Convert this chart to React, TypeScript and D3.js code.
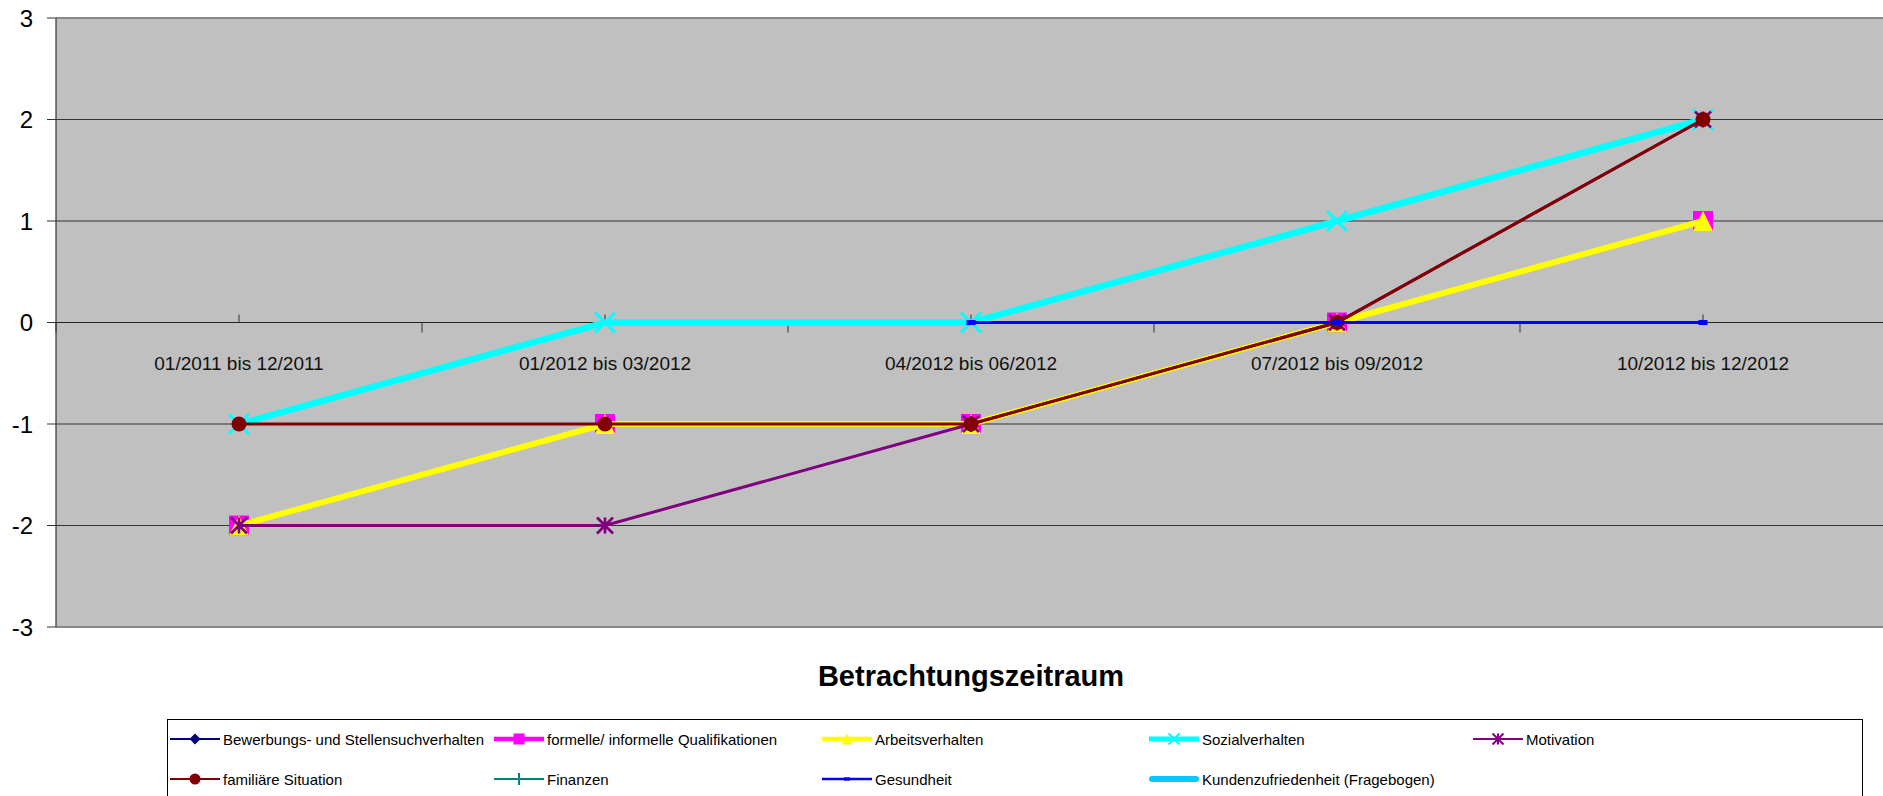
import React from 'react';
import * as d3 from 'd3';

const categories = [
  '01/2011 bis 12/2011',
  '01/2012 bis 03/2012',
  '04/2012 bis 06/2012',
  '07/2012 bis 09/2012',
  '10/2012 bis 12/2012',
];
const bewerbungs: (number | null)[] = [-2, -1, -1, 0, 1];
const qualifikationen: (number | null)[] = [-2, -1, -1, 0, 1];
const arbeitsverhalten: (number | null)[] = [-2, -1, -1, 0, 1];
const sozialverhalten: (number | null)[] = [-1, 0, 0, 1, 2];
const motivation: (number | null)[] = [-2, -2, -1, 0, 2];
const familiaer: (number | null)[] = [-1, -1, -1, 0, 2];
const finanzen: (number | null)[] = [null, null, null, null, null];
const gesundheit: (number | null)[] = [null, null, 0, 0, 0];
const kunden: (number | null)[] = [null, null, null, null, null];
const yTicks = [-3, -2, -1, 0, 1, 2, 3];

const seriesNames = [
  'Bewerbungs- und Stellensuchverhalten',
  'formelle/ informelle Qualifikationen',
  'Arbeitsverhalten',
  'Sozialverhalten',
  'Motivation',
  'familiäre Situation',
  'Finanzen',
  'Gesundheit',
  'Kundenzufriedenheit (Fragebogen)',
];
const seriesValues = [bewerbungs, qualifikationen, arbeitsverhalten, sozialverhalten, motivation, familiaer, finanzen, gesundheit, kunden];
const seriesColors = ['#000080', '#FF00FF', '#FFFF00', '#00FFFF', '#800080', '#800000', '#008080', '#0000FF', '#00CCFF'];
const seriesMarkers = ['diamond', 'square', 'triangle', 'x', 'asterisk', 'circle', 'plus', 'dash', 'none'];
const seriesWidths = [2, 5, 6, 6.5, 3, 3, 2, 3, 6];
const legendWidths = [2, 4.5, 4.5, 5, 2, 2, 2, 2.5, 6];

const W = 1883;
const H = 796;
const plotLeft = 56;
const plotRight = 1886;
const plotTop = 18;
const plotBottom = 627;
const FONT = 'Liberation Sans, Arial, Helvetica, sans-serif';

function Marker({ type, cx, cy, s, color }: { type: string; cx: number; cy: number; s: number; color: string }) {
  const h = s / 2;
  switch (type) {
    case 'diamond':
      return <path d={`M${cx},${cy - h}L${cx + h},${cy}L${cx},${cy + h}L${cx - h},${cy}Z`} fill={color} />;
    case 'square':
      return <rect x={cx - h} y={cy - h} width={s} height={s} fill={color} />;
    case 'triangle':
      return <path d={`M${cx},${cy - h}L${cx + h},${cy + h}L${cx - h},${cy + h}Z`} fill={color} />;
    case 'x':
      return (
        <path d={`M${cx - h},${cy - h}L${cx + h},${cy + h}M${cx - h},${cy + h}L${cx + h},${cy - h}`} stroke={color} strokeWidth={Math.max(2, s / 7)} fill="none" />
      );
    case 'asterisk':
      return (
        <path
          d={`M${cx - h},${cy - h}L${cx + h},${cy + h}M${cx - h},${cy + h}L${cx + h},${cy - h}M${cx},${cy - h}L${cx},${cy + h}`}
          stroke={color}
          strokeWidth={Math.max(2, s / 6)}
          fill="none"
        />
      );
    case 'circle':
      return <circle cx={cx} cy={cy} r={h} fill={color} />;
    case 'plus':
      return <path d={`M${cx - h},${cy}L${cx + h},${cy}M${cx},${cy - h}L${cx},${cy + h}`} stroke={color} strokeWidth={2} fill="none" />;
    case 'dash':
      return <rect x={cx - s / 2} y={cy - s * 0.28} width={s} height={s * 0.56} fill={color} />;
    default:
      return null;
  }
}

const markerSize: Record<string, number> = {
  diamond: 13,
  square: 20,
  triangle: 20,
  x: 20,
  asterisk: 16,
  circle: 15,
  plus: 12,
  dash: 9,
  none: 0,
};
const legendMarkerSize: Record<string, number> = {
  diamond: 11,
  square: 11,
  triangle: 11,
  x: 11,
  asterisk: 11,
  circle: 11,
  plus: 12,
  dash: 6,
  none: 0,
};

export default function App() {
  const x = d3.scaleBand<string>().domain(categories).range([plotLeft, plotRight]).padding(0);
  const bw = x.bandwidth();
  const cx = (c: string) => (x(c) as number) + bw / 2;
  const y = d3.scaleLinear().domain([-3, 3]).range([plotBottom, plotTop]);

  const line = d3
    .line<number | null>()
    .defined((d) => d !== null)
    .x((_, i) => cx(categories[i]))
    .y((d) => y(d as number));

  const legendCols = [223, 547, 875, 1202, 1526];
  const legendRows = [739, 779];

  return (
    <svg width={W} height={H} style={{ position: 'absolute', left: 0, top: 0, background: '#fff' }} fontFamily={FONT}>
      <rect x={0} y={0} width={W} height={H} fill="#fff" />
      {/* plot area */}
      <rect x={plotLeft} y={plotTop} width={plotRight - plotLeft} height={plotBottom - plotTop} fill="#C0C0C0" />
      {/* gridlines */}
      {yTicks
        .filter((t) => t !== 3 && t !== -3)
        .map((t) => (
          <line key={'g' + t} x1={plotLeft} x2={plotRight} y1={y(t)} y2={y(t)} stroke="#333" strokeWidth={1} />
        ))}
      {/* plot border top/bottom */}
      <line x1={plotLeft} x2={plotRight} y1={plotTop} y2={plotTop} stroke="#888" strokeWidth={2} />
      <line x1={plotLeft} x2={plotRight} y1={plotBottom} y2={plotBottom} stroke="#888" strokeWidth={2} />
      {/* y axis */}
      <line x1={plotLeft} x2={plotLeft} y1={plotTop} y2={plotBottom} stroke="#333" strokeWidth={1.2} />
      {yTicks.map((t) => (
        <g key={'yt' + t}>
          <line x1={plotLeft - 9} x2={plotLeft} y1={y(t)} y2={y(t)} stroke="#333" strokeWidth={1} />
          <text x={33} y={y(t)} dy="0.36em" textAnchor="end" fontSize={24} fill="#000">
            {t}
          </text>
        </g>
      ))}
      {/* x axis at 0 */}
      <line x1={plotLeft} x2={plotRight} y1={y(0)} y2={y(0)} stroke="#222" strokeWidth={1} />
      {categories.map((c) => (
        <g key={'xt' + c}>
          <line x1={x(c) as number} x2={x(c) as number} y1={y(0)} y2={y(0) + 10} stroke="#333" strokeWidth={1} />
          <line x1={cx(c)} x2={cx(c)} y1={y(0) - 8} y2={y(0)} stroke="#333" strokeWidth={1} />
          <text x={cx(c)} y={y(0) + 47} textAnchor="middle" fontSize={19} fill="#111">
            {c}
          </text>
        </g>
      ))}
      {/* series */}
      {seriesValues.map((vals, si) => (
        <g key={'s' + si}>
          <path d={line(vals) || ''} fill="none" stroke={seriesColors[si]} strokeWidth={seriesWidths[si]} />
          {vals.map((v, i) =>
            v === null ? null : (
              <Marker key={i} type={seriesMarkers[si]} cx={cx(categories[i])} cy={y(v)} s={markerSize[seriesMarkers[si]]} color={seriesColors[si]} />
            )
          )}
        </g>
      ))}
      {/* axis title */}
      <text x={(plotLeft + plotRight) / 2} y={686} textAnchor="middle" fontSize={29} fontWeight="bold" fill="#000">
        Betrachtungszeitraum
      </text>
      {/* legend */}
      <rect x={167.5} y={719.5} width={1862 - 167} height={90} fill="#fff" stroke="#000" strokeWidth={1} />
      {seriesNames.map((name, i) => {
        const col = i % 5;
        const row = Math.floor(i / 5);
        const tx = legendCols[col];
        const ty = legendRows[row];
        const x0 = tx - 53;
        const x1 = tx - 3;
        const isK = seriesMarkers[i] === 'none';
        return (
          <g key={'l' + i}>
            <line
              x1={x0 + (isK ? 3 : 0)}
              x2={x1 - (isK ? 3 : 0)}
              y1={ty}
              y2={ty}
              stroke={seriesColors[i]}
              strokeWidth={legendWidths[i]}
              strokeLinecap={isK ? 'round' : 'butt'}
            />
            <Marker type={seriesMarkers[i]} cx={(x0 + x1) / 2} cy={ty} s={legendMarkerSize[seriesMarkers[i]]} color={seriesColors[i]} />
            <text x={tx} y={ty + 5.5} fontSize={15} fill="#000">
              {name}
            </text>
          </g>
        );
      })}
    </svg>
  );
}
